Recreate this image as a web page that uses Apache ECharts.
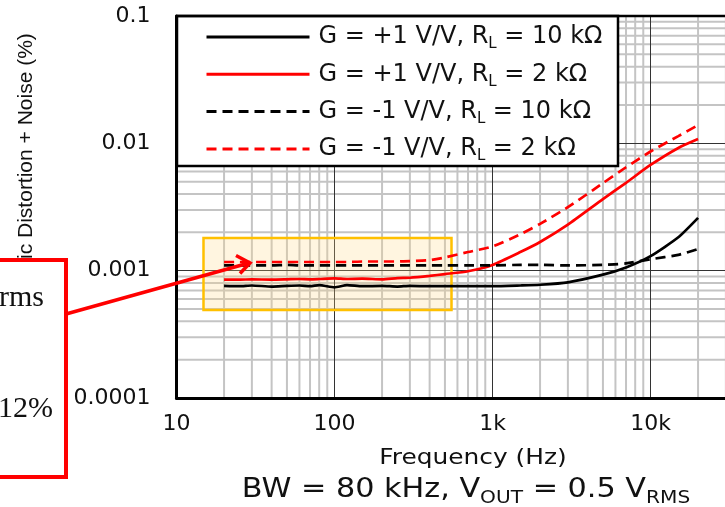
<!DOCTYPE html>
<html>
<head>
<meta charset="utf-8">
<script src="https://cdn.jsdelivr.net/npm/echarts@6/dist/echarts.min.js"></script>
<style>html,body{margin:0;padding:0;background:#fff}#main{width:725px;height:507px}</style>
</head>
<body>
<div id="main"></div>
<script>
// 频率点 (Hz)
var freqHz = [20, 25, 30, 40, 50, 60, 70, 80, 100, 120, 150, 200, 250, 300, 400, 500, 700, 1000, 1500, 2000, 3000, 5000, 7000, 10000, 15000, 20000];
// THD+N (%)
var thdG1R10k = [7.6e-4, 7.55e-4, 7.65e-4, 7.5e-4, 7.6e-4, 7.65e-4, 7.55e-4, 7.7e-4, 7.4e-4, 7.7e-4, 7.55e-4, 7.6e-4, 7.5e-4, 7.6e-4, 7.55e-4, 7.55e-4, 7.55e-4, 7.55e-4, 7.65e-4, 7.75e-4, 8.1e-4, 9.3e-4, 1.06e-3, 1.3e-3, 1.83e-3, 2.6e-3];
var thdG1R2k = [8.5e-4, 8.5e-4, 8.55e-4, 8.5e-4, 8.55e-4, 8.6e-4, 8.55e-4, 8.6e-4, 8.7e-4, 8.6e-4, 8.65e-4, 8.55e-4, 8.75e-4, 8.8e-4, 9.1e-4, 9.4e-4, 9.9e-4, 1.11e-3, 1.4e-3, 1.68e-3, 2.3e-3, 3.65e-3, 4.9e-3, 6.76e-3, 9.2e-3, 1.08e-2];
var thdGm1R10k = [1.1e-3, 1.1e-3, 1.1e-3, 1.1e-3, 1.11e-3, 1.1e-3, 1.1e-3, 1.1e-3, 1.1e-3, 1.1e-3, 1.1e-3, 1.1e-3, 1.1e-3, 1.1e-3, 1.1e-3, 1.1e-3, 1.1e-3, 1.1e-3, 1.11e-3, 1.11e-3, 1.1e-3, 1.11e-3, 1.14e-3, 1.23e-3, 1.33e-3, 1.48e-3];
var thdGm1R2k = [1.17e-3, 1.17e-3, 1.17e-3, 1.17e-3, 1.17e-3, 1.17e-3, 1.17e-3, 1.17e-3, 1.17e-3, 1.17e-3, 1.18e-3, 1.18e-3, 1.18e-3, 1.19e-3, 1.21e-3, 1.27e-3, 1.4e-3, 1.55e-3, 1.93e-3, 2.33e-3, 3.15e-3, 4.87e-3, 6.49e-3, 8.63e-3, 1.14e-2, 1.39e-2];

var seriesNames = ['G = +1 V/V, RL = 10 kΩ', 'G = +1 V/V, RL = 2 kΩ', 'G = -1 V/V, RL = 10 kΩ', 'G = -1 V/V, RL = 2 kΩ'];
var legendLabels = ['G = +1 V/V, R{sub|L} = 10 kΩ', 'G = +1 V/V, R{sub|L} = 2 kΩ', 'G = -1 V/V, R{sub|L} = 10 kΩ', 'G = -1 V/V, R{sub|L} = 2 kΩ'];
var seriesColors = ['#000000', '#ff0000', '#000000', '#ff0000'];
var seriesDashed = [false, false, true, true];

// 次网格线
var xMinorTicks = [20, 30, 40, 50, 60, 70, 80, 90, 200, 300, 400, 500, 600, 700, 800, 900, 2000, 3000, 4000, 5000, 6000, 7000, 8000, 9000, 20000, 30000, 40000, 50000, 60000, 70000, 80000, 90000];
var yMinorTicks = [0.0002, 0.0003, 0.0004, 0.0005, 0.0006, 0.0007, 0.0008, 0.0009, 0.002, 0.003, 0.004, 0.005, 0.006, 0.007, 0.008, 0.009, 0.02, 0.03, 0.04, 0.05, 0.06, 0.07, 0.08, 0.09];

function pairs(vals) {
	var out = [];
	for (var i = 0; i < freqHz.length; i++) {
		out.push([freqHz[i], vals[i]]);
	}
	return out;
}

var curves = [thdG1R10k, thdG1R2k, thdGm1R10k, thdGm1R2k];
var series = [];
for (var i = 0; i < curves.length; i++) {
	series.push({
		name: seriesNames[i],
		type: 'line',
		data: pairs(curves[i]),
		symbol: 'none',
		showSymbol: false,
		smooth: 0.2,
		z: 2,
		lineStyle: {
			color: seriesColors[i],
			width: 2.7,
			type: seriesDashed[i] ? [10, 6] : 'solid'
		},
		itemStyle: { color: seriesColors[i] }
	});
}

// 次网格线: custom 系列, 位置由坐标轴换算
var minorStyle = { stroke: '#c4c4c4', lineWidth: 2 };
var vMinor = [];
for (var i = 0; i < xMinorTicks.length; i++) vMinor.push([xMinorTicks[i], 0.001]);
var hMinor = [];
for (var i = 0; i < yMinorTicks.length; i++) hMinor.push([10, yMinorTicks[i]]);
series.push({
	type: 'custom',
	data: vMinor,
	z: 1,
	silent: true,
	renderItem: function (params, api) {
		var p = api.coord([api.value(0), api.value(1)]);
		var cs = params.coordSys;
		return { type: 'line', shape: { x1: p[0], y1: cs.y, x2: p[0], y2: cs.y + cs.height }, style: minorStyle };
	}
});
series.push({
	type: 'custom',
	data: hMinor,
	z: 1,
	silent: true,
	renderItem: function (params, api) {
		var p = api.coord([api.value(0), api.value(1)]);
		var cs = params.coordSys;
		return { type: 'line', shape: { x1: cs.x, y1: p[1], x2: cs.x + cs.width, y2: p[1] }, style: minorStyle };
	}
});

var myChart = echarts.init(document.getElementById('main'));

var option = {
	animation: false,
	backgroundColor: '#ffffff',
	grid: {
		left: 176.5,
		top: 16,
		width: 632,
		height: 382,
		containLabel: false,
		outerBoundsMode: 'none',
		show: true,
		backgroundColor: '#ffffff',
		borderColor: '#000000',
		borderWidth: 2
	},
	xAxis: {
		type: 'log',
		logBase: 10,
		min: 10,
		max: 100000,
		z: 1.5,
		axisLine: { show: true, onZero: false, lineStyle: { color: '#000', width: 3 } },
		axisTick: { show: false },
		axisLabel: {
			margin: 15,
			fontFamily: 'DejaVu Sans',
			fontSize: 22,
			color: '#111',
			formatter: function (v) { return v >= 1000 ? (v / 1000) + 'k' : String(v); }
		},
		splitLine: { show: true, lineStyle: { color: '#333', width: 1 } }
	},
	yAxis: {
		type: 'log',
		logBase: 10,
		min: 0.0001,
		max: 0.1,
		z: 1.5,
		axisLine: { show: true, onZero: false, lineStyle: { color: '#000', width: 3 } },
		axisTick: { show: false },
		axisLabel: {
			margin: 26,
			fontFamily: 'DejaVu Sans',
			fontSize: 22,
			color: '#111',
			formatter: function (v) { return String(parseFloat(Number(v).toPrecision(6))); }
		},
		splitLine: { show: true, lineStyle: { color: '#333', width: 1 } }
	},
	legend: {
		orient: 'vertical',
		left: 205,
		top: 22,
		padding: 0,
		itemWidth: 103,
		itemHeight: 14,
		itemGap: 7.3,
		selectedMode: false,
		z: 4,
		data: seriesNames,
		formatter: function (name) { return legendLabels[seriesNames.indexOf(name)]; },
		itemStyle: { opacity: 0 },
		lineStyle: { width: 3 },
		textStyle: {
			fontFamily: 'DejaVu Sans',
			fontSize: 24,
			color: '#111',
			lineHeight: 30,
			padding: [0, 0, 0, 4],
			rich: {
				sub: { fontFamily: 'DejaVu Sans', fontSize: 15, lineHeight: 16, verticalAlign: 'bottom', color: '#111' }
			}
		}
	},
	graphic: [
		{ type: 'rect', z: 1.8, silent: true, shape: { x: 203.5, y: 238, width: 248, height: 72 },
			style: { fill: 'rgba(255,215,130,0.25)', stroke: '#ffc000', lineWidth: 2.5 } },
		{ type: 'rect', z: 3, silent: true, shape: { x: 177, y: 16, width: 441, height: 150 },
			style: { fill: '#ffffff', stroke: '#000000', lineWidth: 2.5 } },
		{ type: 'line', z: 3, silent: true, shape: { x1: 176.5, y1: 16, x2: 725, y2: 16 },
			style: { stroke: '#000000', lineWidth: 2.5 } },
		{ type: 'text', z: 3, silent: true, x: 26.5, y: 208.5, rotation: Math.PI / 2,
			style: { text: 'Total Harmonic Distortion + Noise (%)', fontFamily: 'Liberation Sans', fontSize: 21, fill: '#111',
				textAlign: 'center', textVerticalAlign: 'middle', align: 'center', verticalAlign: 'middle' } },
		{ type: 'text', z: 3, silent: true, x: 473, y: 458, scaleX: 1.13,
			style: { text: 'Frequency (Hz)', fontFamily: 'DejaVu Sans', fontSize: 22, fill: '#111',
				textAlign: 'center', textVerticalAlign: 'middle', align: 'center', verticalAlign: 'middle' } },
		{ type: 'text', z: 3, silent: true, x: 466, y: 490, scaleX: 1.12,
			style: { text: 'BW = 80 kHz, V{sub|OUT} = 0.5 V{sub|RMS}', fontFamily: 'DejaVu Sans', fontSize: 27, fill: '#111',
				lineHeight: 34,
				textAlign: 'center', textVerticalAlign: 'middle', align: 'center', verticalAlign: 'middle',
				rich: { sub: { fontFamily: 'DejaVu Sans', fontSize: 18, lineHeight: 18, verticalAlign: 'bottom', fill: '#111' } } } },
		// 左侧红框注释
		{ type: 'rect', z: 6, silent: true, shape: { x: -10, y: 260, width: 76, height: 217 },
			style: { fill: '#ffffff', stroke: '#ff0000', lineWidth: 4 } },
		{ type: 'text', z: 7, silent: true, x: 44, y: 298,
			style: { text: 'rms', fontFamily: 'Liberation Serif', fontSize: 30, fill: '#111',
				textAlign: 'right', textVerticalAlign: 'middle', align: 'right', verticalAlign: 'middle' } },
		{ type: 'text', z: 7, silent: true, x: 53, y: 409,
			style: { text: '12%', fontFamily: 'Liberation Serif', fontSize: 30, fill: '#111',
				textAlign: 'right', textVerticalAlign: 'middle', align: 'right', verticalAlign: 'middle' } },
		{ type: 'polyline', z: 6, silent: true, shape: { points: [[66, 314], [249, 263]] },
			style: { stroke: '#ff0000', lineWidth: 3.5, fill: null } },
		{ type: 'polyline', z: 6, silent: true, shape: { points: [[236, 255.5], [250, 263], [240, 273.5]] },
			style: { stroke: '#ff0000', lineWidth: 3.5, fill: null } }
	],
	series: series
};

myChart.setOption(option);
</script>
</body>
</html>
